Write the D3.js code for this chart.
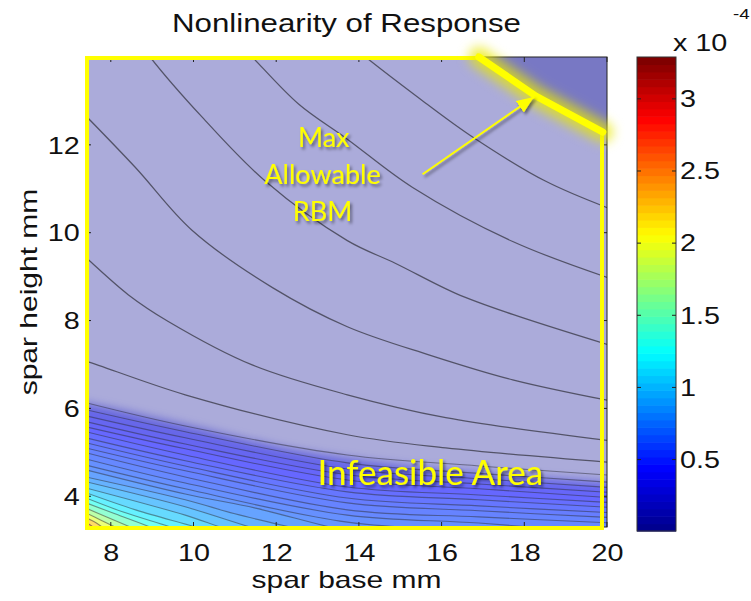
<!DOCTYPE html>
<html><head><meta charset="utf-8">
<script src="https://cdn.jsdelivr.net/npm/d3@7"></script>
<style>body{margin:0;background:#fff}</style>
</head><body>
<svg id="chart" width="751" height="601"></svg>
<script>
// ---------------- data ----------------
const titleText = "Nonlinearity of Response";
const xLabel = "spar base mm";
const yLabel = "spar height mm";
const xDomain = [7.4, 20];
const yDomain = [3.3, 14];
const xTicks = [8, 10, 12, 14, 16, 18, 20];
const yTicks = [4, 6, 8, 10, 12];
const cDomain = [0.005, 3.29];          // colour axis, x 10^-4
const cTicks = [0.5, 1, 1.5, 2, 2.5, 3];
const jetStops = [0, 0.125, 0.375, 0.625, 0.875, 1];
const jetColors = ["#00008f", "#0000ff", "#00ffff", "#ffff00", "#ff0000", "#800000"];

// contour lines in the feasible (washed) region: [base mm, height mm]
const upperLevels = [0.04, 0.06, 0.08, 0.10, 0.12, 0.14];
const upperLines = [
  [[13.9,14.2],[14.16,14.0],[15.49,13.04],[16.75,12.18],[18.52,11.17],[20.2,10.5]],
  [[11.2,14.2],[11.42,14.0],[12.54,12.93],[13.72,12.13],[15.30,11.03],[17.72,9.80],[20.2,8.92]],
  [[8.8,14.2],[8.95,14.0],[10.21,12.63],[11.74,11.17],[13.72,9.82],[14.89,9.30],[16.34,8.62],[17.72,8.14],[20.2,7.4]],
  [[7.2,12.85],[8.59,11.49],[9.97,10.05],[11.91,8.75],[13.72,7.86],[15.69,7.22],[17.72,6.65],[20.2,6.15]],
  [[7.2,9.6],[7.45,9.39],[8.42,8.59],[9.39,7.98],[11.42,6.99],[13.72,6.31],[16.10,5.79],[20.2,5.25]],
  [[7.2,7.12],[7.45,7.06],[9.80,6.31],[13.72,5.40],[16.10,5.10],[20.2,4.76]]
];
// dense contour lines toward the bottom-left corner (x 10^-4 levels)
const lowerLevels = [0.22,0.28,0.33,0.38,0.42,0.46,0.50,0.54,0.57,0.60,0.64,0.68,0.74,0.82,0.92,1.04,1.16,1.30,1.48,1.70,1.95,2.25,2.60,2.95];
const lowerLines = [
  [[7.4,6.13],[9.8,5.60],[13.72,4.94],[16.9,4.69],[20.2,4.47]],
  [[7.4,5.97],[9.8,5.47],[13.72,4.76],[16.9,4.52],[20.2,4.31]],
  [[7.4,5.83],[9.8,5.33],[13.72,4.62],[16.9,4.40],[20.2,4.19]],
  [[7.4,5.70],[9.8,5.19],[13.72,4.49],[16.9,4.28],[20.2,4.08]],
  [[7.4,5.58],[9.8,5.08],[13.72,4.37],[16.9,4.17],[20.2,3.96]],
  [[7.4,5.47],[9.8,4.94],[13.72,4.21],[16.9,4.03],[20.2,3.85]],
  [[7.4,5.33],[9.8,4.81],[13.72,4.10],[16.9,3.92],[20.2,3.74]],
  [[7.4,5.22],[9.8,4.69],[13.72,3.96],[16.9,3.78],[20.2,3.62]],
  [[7.4,5.10],[9.8,4.58],[13.72,3.85],[16.9,3.67],[20.2,3.51]],
  [[7.4,4.99],[9.8,4.44],[13.72,3.69],[16.9,3.53],[20.2,3.39]],
  [[7.4,4.85],[9.8,4.30],[13.72,3.57],[16.9,3.39],[20.2,3.15]],
  [[7.4,4.71],[9.8,4.17],[13.72,3.41],[16.9,3.20],[20.2,2.95]],
  [[7.4,4.60],[9.8,4.05],[11.5,3.73],[13.3,3.30],[14.6,3.05]],
  [[7.4,4.44],[9.8,3.92],[11.0,3.60],[12.34,3.30],[13.4,3.08]],
  [[7.4,4.33],[9.8,3.76],[11.37,3.30],[12.3,3.08]],
  [[7.4,4.19],[9.8,3.57],[10.65,3.30],[11.4,3.08]],
  [[7.4,4.08],[8.6,3.69],[10.04,3.30],[10.8,3.08]],
  [[7.4,3.96],[8.3,3.64],[9.44,3.30],[10.1,3.08]],
  [[7.4,3.85],[8.1,3.60],[8.95,3.30],[9.5,3.08]],
  [[7.4,3.73],[7.9,3.53],[8.47,3.30],[9.0,3.08]],
  [[7.4,3.62],[7.75,3.46],[8.10,3.30],[8.6,3.08]],
  [[7.4,3.51],[7.6,3.42],[7.79,3.30],[8.1,3.08]],
  [[7.4,3.41],[7.57,3.30],[7.8,3.08]],
  [[7.4,3.35],[7.47,3.30],[7.6,3.08]]
];
// edge of the washed (feasible) region
const feasibleBoundary = [[6.9,6.18],[7.4,6.12],[9.8,5.63],[12.2,5.10],[13.7,4.87],[16.1,4.60],[18.5,4.42],[20.6,4.28]];
// max allowable RBM constraint
const rbmLine = [[16.9,14.0],[18.28,13.11],[19.9,12.29]];
const arrowPts = [[15.54,11.33],[18.23,13.09]];
const rbmText = [{t:"Max", x:13.15, y:11.95}, {t:"Allowable", x:13.12, y:11.10}, {t:"RBM", x:13.12, y:10.26}];
const infeasText = {t:"Infeasible Area", x:13.0, y:4.26};

// ---------------- drawing ----------------
const svg = d3.select("#chart");
const M = {left:86, right:607, top:57, bottom:527};
const x = d3.scaleLinear().domain(xDomain).range([M.left, M.right]);
const y = d3.scaleLinear().domain(yDomain).range([M.bottom, M.top]);
const jet = d3.scaleLinear().domain(jetStops).range(jetColors).clamp(true);
const cNorm = d3.scaleLinear().domain(cDomain).range([0,1]).clamp(true);
const wash = (c, a) => d3.interpolateRgb(c, "#ffffff")(a);
const bandColor = v => wash(jet(cNorm(v)), 0.4);
const SX = 1.25;
const FONT = "'Liberation Sans', Arial, Helvetica, sans-serif";

const defs = svg.append("defs");
defs.append("clipPath").attr("id","plotClip").append("rect")
  .attr("x", M.left).attr("y", M.top).attr("width", M.right-M.left).attr("height", M.bottom-M.top);
defs.append("filter").attr("id","soft").attr("filterUnits","userSpaceOnUse")
  .attr("x",0).attr("y",0).attr("width",751).attr("height",601)
  .append("feGaussianBlur").attr("stdDeviation",5);
defs.append("filter").attr("id","glow").attr("filterUnits","userSpaceOnUse")
  .attr("x",0).attr("y",0).attr("width",751).attr("height",601)
  .append("feGaussianBlur").attr("stdDeviation",6);
const sh = defs.append("filter").attr("id","shadow").attr("filterUnits","userSpaceOnUse")
  .attr("x",0).attr("y",0).attr("width",751).attr("height",601);
sh.append("feDropShadow").attr("dx",2).attr("dy",2.5).attr("stdDeviation",1.6)
  .attr("flood-color","#000").attr("flood-opacity",0.45);
defs.append("marker").attr("id","ahead").attr("markerUnits","userSpaceOnUse")
  .attr("markerWidth",18).attr("markerHeight",14).attr("refX",17).attr("refY",7)
  .attr("orient","auto").append("path").attr("d","M0,0 L17,7 L0,14 Z").attr("fill","#ffff00");

const plot = svg.append("g").attr("clip-path","url(#plotClip)");
plot.append("rect").attr("x",M.left).attr("y",M.top).attr("width",M.right-M.left).attr("height",M.bottom-M.top)
  .attr("fill", bandColor(upperLevels[upperLevels.length-1]));

const curve = d3.curveCatmullRom.alpha(0.5);
const area = d3.area().curve(curve).x(d=>x(d[0])).y0(y(2.5)).y1(d=>y(d[1]));
const line = d3.line().curve(curve).x(d=>x(d[0])).y(d=>y(d[1]));

plot.selectAll("path.band").data(lowerLines).join("path").attr("class","band")
  .attr("d", area).attr("fill", (d,i)=>bandColor(lowerLevels[i]))
  .attr("stroke", (d,i)=>bandColor(lowerLevels[i])).attr("stroke-width",0.6);

// washed feasible region
const over = d3.area().curve(curve).x(d=>x(d[0])).y0(y(14.8)).y1(d=>y(d[1]));
plot.append("path").attr("d", over(feasibleBoundary))
  .attr("fill", wash(jet(0), 0.67)).attr("filter","url(#soft)");

// contour lines
plot.selectAll("path.cu").data(upperLines).join("path").attr("class","cu")
  .attr("d", line).attr("fill","none").attr("stroke","#2e2e38").attr("stroke-opacity",0.7)
  .attr("stroke-width",1.25);
plot.selectAll("path.cl").data(lowerLines).join("path").attr("class","cl")
  .attr("d", line).attr("fill","none").attr("stroke","#2e2e38").attr("stroke-opacity",0.5)
  .attr("stroke-width",1.1);

// region beyond max RBM
const beyond = rbmLine.concat([[20.4,12.1],[20.4,14.4],[16.9,14.4]]);
plot.append("path").attr("d", d3.line().x(d=>x(d[0])).y(d=>y(d[1]))(beyond)+"Z")
  .attr("fill", wash(jet(0), 0.47));

// axes box and inner ticks
svg.append("rect").attr("x",M.left).attr("y",M.top).attr("width",M.right-M.left).attr("height",M.bottom-M.top)
  .attr("fill","none").attr("stroke","#222").attr("stroke-width",1);
const tk = svg.append("g").attr("stroke","#222").attr("stroke-width",1);
xTicks.forEach(v=>{
  tk.append("line").attr("x1",x(v)).attr("x2",x(v)).attr("y1",M.top).attr("y2",M.top+5);
  tk.append("line").attr("x1",x(v)).attr("x2",x(v)).attr("y1",M.bottom).attr("y2",M.bottom-5);
});
yTicks.forEach(v=>{
  tk.append("line").attr("y1",y(v)).attr("y2",y(v)).attr("x1",M.left).attr("x2",M.left+5);
  tk.append("line").attr("y1",y(v)).attr("y2",y(v)).attr("x1",M.right).attr("x2",M.right-5);
});

// yellow border + RBM line
const px = d => [x(d[0]), y(d[1])];
const border = [[M.left+1, M.top+1], [x(rbmLine[0][0]), M.top+1]]
  .concat(rbmLine.map(px)).concat([[M.right-5, y(rbmLine[rbmLine.length-1][1])], [M.right-5, M.bottom+1], [M.left+1, M.bottom+1]]);
svg.append("path").attr("d", d3.line()(border)+"Z").attr("fill","none")
  .attr("stroke","#ffff00").attr("stroke-width",4);
svg.append("path").attr("d", d3.line()(rbmLine.map(px))).attr("fill","none")
  .attr("stroke","#e8e800").attr("stroke-width",20).attr("stroke-opacity",0.75)
  .attr("stroke-linecap","round").attr("filter","url(#glow)");
svg.append("path").attr("d", d3.line()(rbmLine.map(px))).attr("fill","none")
  .attr("stroke","#ffff00").attr("stroke-width",7).attr("stroke-linecap","round");

// arrow
svg.append("line").attr("x1",x(arrowPts[0][0])).attr("y1",y(arrowPts[0][1]))
  .attr("x2",x(arrowPts[1][0])).attr("y2",y(arrowPts[1][1]))
  .attr("stroke","#ffff00").attr("stroke-width",2).attr("marker-end","url(#ahead)")
  .attr("filter","url(#shadow)");

// annotation texts
const ann = svg.append("g").attr("filter","url(#shadow)")
  .attr("font-family","Lato, 'Open Sans', sans-serif").attr("fill","#ffff00");
rbmText.forEach(d=>{
  ann.append("text").attr("x",x(d.x)).attr("y",y(d.y)).attr("text-anchor","middle")
    .attr("font-size",27).text(d.t);
});
ann.append("text").attr("x",x(infeasText.x)).attr("y",y(infeasText.y))
  .attr("font-size",35).text(infeasText.t);

// axis tick labels
const gx = svg.append("g").attr("transform",`translate(0,${M.bottom})`)
  .call(d3.axisBottom(x).tickValues(xTicks).tickSize(0).tickPadding(0).tickFormat(d3.format("d")));
gx.select(".domain").remove();
gx.selectAll("text").attr("y",34).attr("dy",0).attr("font-size",23).attr("font-family",FONT)
  .attr("fill","#111").attr("transform",`scale(${SX},1)`);
const gy = svg.append("g").attr("transform",`translate(${M.left},0)`)
  .call(d3.axisLeft(y).tickValues(yTicks).tickSize(0).tickPadding(0).tickFormat(d3.format("d")));
gy.select(".domain").remove();
gy.selectAll("text").attr("x",-5).attr("dy","0.36em").attr("font-size",23).attr("font-family",FONT)
  .attr("fill","#111").attr("transform",`scale(${SX},1)`);

// titles
function stretched(xp, yp, txt, size, anchor, rot){
  const g = svg.append("g").attr("transform",`translate(${xp},${yp})` + (rot?` rotate(${rot})`:""));
  g.append("text").attr("text-anchor",anchor).attr("font-family",FONT).attr("font-size",size)
    .attr("fill","#111").attr("transform",`scale(${SX},1)`).text(txt);
  return g;
}
stretched((M.left+M.right)/2, 32, titleText, 25, "middle");
stretched((M.left+M.right)/2, 588, xLabel, 24, "middle");
svg.append("g").attr("transform",`translate(37,${(M.top+M.bottom)/2}) rotate(-90)`)
  .append("text").attr("text-anchor","middle").attr("font-family",FONT).attr("font-size",24)
  .attr("fill","#111").attr("transform",`scale(${SX},1)`).text(yLabel);

// colour bar
const CB = {x0:637, x1:676, top:57, bottom:531};
const cy = d3.scaleLinear().domain(cDomain).range([CB.bottom, CB.top]);
const nC = 64;
const cb = svg.append("g");
cb.selectAll("rect").data(d3.range(nC)).join("rect")
  .attr("x",CB.x0).attr("width",CB.x1-CB.x0)
  .attr("y", i => CB.bottom - (i+1)*(CB.bottom-CB.top)/nC)
  .attr("height", (CB.bottom-CB.top)/nC + 0.6)
  .attr("fill", i => jet(i/(nC-1)));
cb.append("rect").attr("x",CB.x0).attr("y",CB.top).attr("width",CB.x1-CB.x0).attr("height",CB.bottom-CB.top)
  .attr("fill","none").attr("stroke","#333").attr("stroke-width",1);
cTicks.forEach(v=>{
  cb.append("line").attr("x1",CB.x0).attr("x2",CB.x0+4).attr("y1",cy(v)).attr("y2",cy(v)).attr("stroke","#222");
  cb.append("line").attr("x1",CB.x1).attr("x2",CB.x1-4).attr("y1",cy(v)).attr("y2",cy(v)).attr("stroke","#222");
  const g = cb.append("g").attr("transform",`translate(${CB.x1+4},${cy(v)})`);
  g.append("text").attr("dy","0.36em").attr("font-family",FONT).attr("font-size",23).attr("fill","#111")
    .attr("transform",`scale(${SX},1)`).text(v);
});
stretched(673, 51, "x 10", 23, "start");
stretched(733, 19, "-4", 15, "start");
</script>
</body></html>
